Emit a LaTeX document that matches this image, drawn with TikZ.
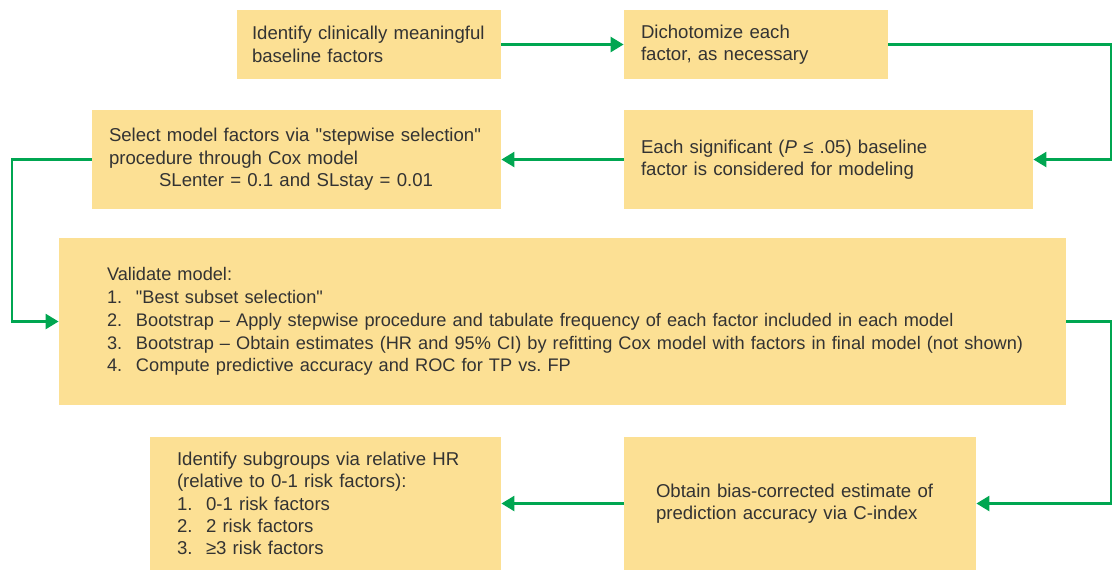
\documentclass[tikz,border=0pt]{standalone}
\usepackage{fontspec}
\setmainfont{Liberation Sans}[Ligatures=TeXOff]
\usepackage{tikz}
\usetikzlibrary{positioning,arrows.meta}
\definecolor{boxfill}{RGB}{252,224,148}
\definecolor{flowgreen}{RGB}{0,166,81}
\definecolor{txt}{RGB}{51,51,51}
\tikzset{
	box/.style={fill=boxfill,text=txt,align=left,inner ysep=0pt,font=\fontsize{9.3}{11.2}\selectfont},
	flow/.style={draw=flowgreen,line width=1.25pt,-{Triangle[length=6.5pt,width=7.5pt]}}
}
\newcommand{\itm}[1]{\makebox[14.5pt][l]{#1}}
\begin{document}
\begin{tikzpicture}[x=0.5pt,y=-0.5pt]
			\useasboundingbox (0,0) rectangle (1112,570);
			
			\node[box,minimum width=132pt,minimum height=34.5pt,inner xsep=7.5pt,text width=117pt] (N1) at (369,44.5) {Identify clinically meaningful\\baseline factors};
			\node[box,minimum width=132pt,minimum height=34.5pt,inner xsep=8.5pt,text width=115pt] (N2) at (756,44.5) {Dichotomize each\\factor, as necessary};
			\node[box,minimum width=204.5pt,minimum height=49.5pt,inner xsep=8.5pt,text width=187.5pt] (N3) at (296.5,159.5) {Select model factors via "stepwise selection"\\procedure through Cox model\\\hspace*{25pt}SLenter = 0.1 and SLstay = 0.01};
			\node[box,minimum width=204.5pt,minimum height=49.5pt,inner xsep=8.5pt,text width=187.5pt] (N4) at (828.5,159.5) {Each significant (\textit{P} ≤ .05) baseline\\factor is considered for modeling};
			\node[box,minimum width=503.5pt,minimum height=83.5pt,inner xsep=24pt,text width=455.5pt,font=\fontsize{9.1}{11.4}\selectfont] (N5) at (562.5,321.5) {Validate model:\\\itm{1.}"Best subset selection"\\\itm{2.}Bootstrap – Apply stepwise procedure and tabulate frequency of each factor included in each model\\\mbox{\itm{3.}Bootstrap – Obtain estimates (HR and 95\% CI) by refitting Cox model with factors in final model (not shown)}\\\itm{4.}Compute predictive accuracy and ROC for TP vs.\ FP};
			\node[box,minimum width=175.5pt,minimum height=66.5pt,inner xsep=13.5pt,text width=148.5pt] (N6) at (325.5,503.5) {Identify subgroups via relative HR\\(relative to 0-1 risk factors):\\\itm{1.}0-1 risk factors\\\itm{2.}2 risk factors\\\itm{3.}≥3 risk factors};
			\node[box,minimum width=176pt,minimum height=66.5pt,inner xsep=16pt,text width=144pt] (N7) at (800,503.5) {Obtain bias-corrected estimate of\\prediction accuracy via C-index};
			
			% turning points at the left and right edges
			\coordinate (R) at (1111,0);
			\coordinate (L) at (12,0);
			
			\draw[flow] (N1.east) -- (N2.west);
			\draw[flow] (N2.east) -- (N2.east -| R) |- (N4.east);
			\draw[flow] (N4.west) -- (N3.east);
			\draw[flow] (N3.west) -- (N3.west -| L) |- (N5.west);
			\draw[flow] (N5.east) -- (N5.east -| R) |- (N7.east);
			\draw[flow] (N7.west) -- (N6.east);
\end{tikzpicture}
\end{document}
